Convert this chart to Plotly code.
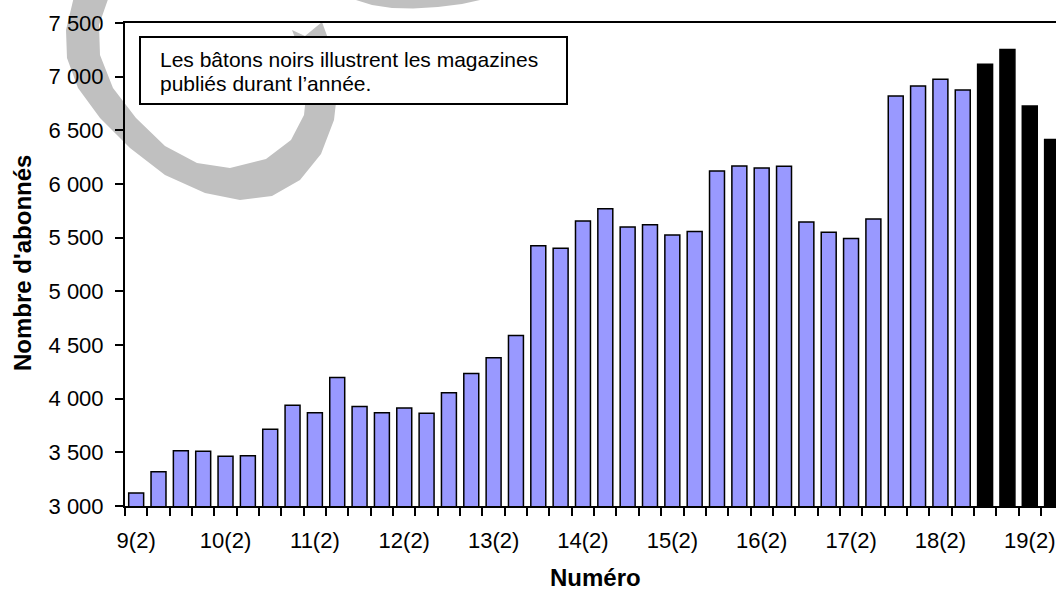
import plotly.graph_objects as go

# ---------------- data ----------------
issues = [
    "9(2)", "9(3)", "9(4)", "10(1)", "10(2)", "10(3)", "10(4)", "11(1)",
    "11(2)", "11(3)", "11(4)", "12(1)", "12(2)", "12(3)", "12(4)", "13(1)",
    "13(2)", "13(3)", "13(4)", "14(1)", "14(2)", "14(3)", "14(4)", "15(1)",
    "15(2)", "15(3)", "15(4)", "16(1)", "16(2)", "16(3)", "16(4)", "17(1)",
    "17(2)", "17(3)", "17(4)", "18(1)", "18(2)", "18(3)", "18(4)", "19(1)",
    "19(2)", "19(3)",
]
subscribers = [
    3120, 3320, 3515, 3510, 3463, 3469, 3714, 3938, 3869, 4198,
    3928, 3869, 3912, 3863, 4055, 4235, 4381, 4589, 5424, 5402,
    5655, 5770, 5600, 5620, 5526, 5557, 6120, 6168, 6150, 6166,
    5647, 5551, 5492, 5675, 6820, 6913, 6976, 6876, 7115, 7252,
    6727, 6414,
]
published_this_year = ["18(4)", "19(1)", "19(2)", "19(3)"]
labelled_issues = ["9(2)", "10(2)", "11(2)", "12(2)", "13(2)", "14(2)",
                   "15(2)", "16(2)", "17(2)", "18(2)", "19(2)"]
y_tick_values = [3000, 3500, 4000, 4500, 5000, 5500, 6000, 6500, 7000, 7500]
y_tick_labels = ["3 000", "3 500", "4 000", "4 500", "5 000", "5 500",
                 "6 000", "6 500", "7 000", "7 500"]
note_lines = ["Les bâtons noirs illustrent les magazines",
              "publiés durant l’année."]
x_title = "Numéro"
y_title = "Nombre d'abonnés"

# ---------------- layout geometry ----------------
W, H = 1056, 590
ML, MR, MT, MB = 125, 0, 23, 84
PW, PH = W - ML - MR, H - MT - MB
FONT = "Arial, 'Liberation Sans', Helvetica, sans-serif"
BLUE = "#9999FF"
GRAY = "#C0C0C0"


def px(x):
    return (x - ML) / PW


def py(y):
    return (H - MB - y) / PH


def path_from(points):
    return "M " + " L ".join(f"{px(x):.5f},{py(y):.5f}" for x, y in points) + " Z"


x_idx = list(range(len(issues)))
colors = ["black" if i in published_this_year else BLUE for i in issues]

fig = go.Figure()
fig.add_trace(go.Bar(
    x=x_idx, y=subscribers,
    marker=dict(color=colors, line=dict(color="black", width=1.5)),
    showlegend=False,
))

n = len(issues)
step_px = 22.34
x_end = -0.5 + PW / step_px

# decorative gray ring (watermark), in pixel coordinates
outer = [(76, -12), (72, 5), (66, 30), (67, 58), (78, 88), (100, 118),
         (130, 148), (165, 175), (205, 193), (240, 200), (272, 196),
         (300, 180), (321, 154), (334, 120), (338, 85), (333, 52), (322, 22)]
inner = [(305, 36), (292, 30), (302, 56), (307, 86), (304, 115), (291, 140),
         (266, 159), (230, 168), (197, 163), (165, 146), (136, 118),
         (113, 88), (100, 55), (99, 25), (106, 5), (112, -12)]
ring = outer + inner

top_arc = [(352, -12), (356, 0), (372, 5), (392, 8), (413, 8.5), (438, 7),
           (462, 4), (480, 0), (484, -12)]

shapes = [
    dict(type="path", path=path_from(ring), xref="paper", yref="paper",
         fillcolor=GRAY, line=dict(width=0), layer="below"),
    dict(type="path", path=path_from(top_arc), xref="paper", yref="paper",
         fillcolor=GRAY, line=dict(width=0), layer="below"),
    dict(type="rect", xref="paper", yref="paper",
         x0=px(140), x1=px(567), y0=py(37), y1=py(104),
         fillcolor="white", line=dict(color="black", width=2), layer="below"),
]

annotations = [
    dict(text=note_lines[0], x=px(158), y=py(60), xref="paper", yref="paper",
         xanchor="left", yanchor="middle", showarrow=False,
         font=dict(family=FONT, size=21, color="black")),
    dict(text=note_lines[1], x=px(158), y=py(83), xref="paper", yref="paper",
         xanchor="left", yanchor="middle", showarrow=False,
         font=dict(family=FONT, size=21, color="black")),
    dict(text=f"<b>{x_title}</b>", x=px(595), y=py(577), xref="paper", yref="paper",
         xanchor="center", yanchor="middle", showarrow=False,
         font=dict(family=FONT, size=24, color="black")),
    dict(text=f"<b>{y_title}</b>", x=px(22), y=py(263), xref="paper", yref="paper",
         xanchor="center", yanchor="middle", showarrow=False, textangle=-90,
         font=dict(family=FONT, size=24, color="black")),
]

fig.update_layout(
    width=W, height=H,
    margin=dict(l=ML, r=MR, t=MT, b=MB, pad=0),
    paper_bgcolor="white", plot_bgcolor="rgba(0,0,0,0)",
    bargap=0.33,
    font=dict(family=FONT, size=22, color="black"),
    shapes=shapes, annotations=annotations,
    xaxis=dict(
        range=[-0.5, x_end], showgrid=False, zeroline=False,
        showline=True, linecolor="black", linewidth=1.5, mirror=True,
        tickmode="array",
        tickvals=[issues.index(lab) for lab in labelled_issues],
        ticktext=labelled_issues,
        ticks="", ticklabelstandoff=14,
        tickfont=dict(family=FONT, size=22, color="black"),
        minor=dict(tickmode="array", tickvals=[i - 0.5 for i in range(n + 1)],
                   ticks="outside", ticklen=8, tickwidth=1.5, tickcolor="black",
                   showgrid=False),
        fixedrange=True,
    ),
    yaxis=dict(
        range=[3000, 7500], showgrid=False, zeroline=False,
        showline=True, linecolor="black", linewidth=2,
        tickmode="array", tickvals=y_tick_values, ticktext=y_tick_labels,
        ticks="outside", ticklen=8, tickwidth=1.5, tickcolor="black",
        ticklabelstandoff=7,
        tickfont=dict(family=FONT, size=22, color="black"),
        fixedrange=True,
    ),
)

fig.write_html(
    "out.html",
    config={"displayModeBar": False},
    post_script="document.body.style.margin='0';",
)
